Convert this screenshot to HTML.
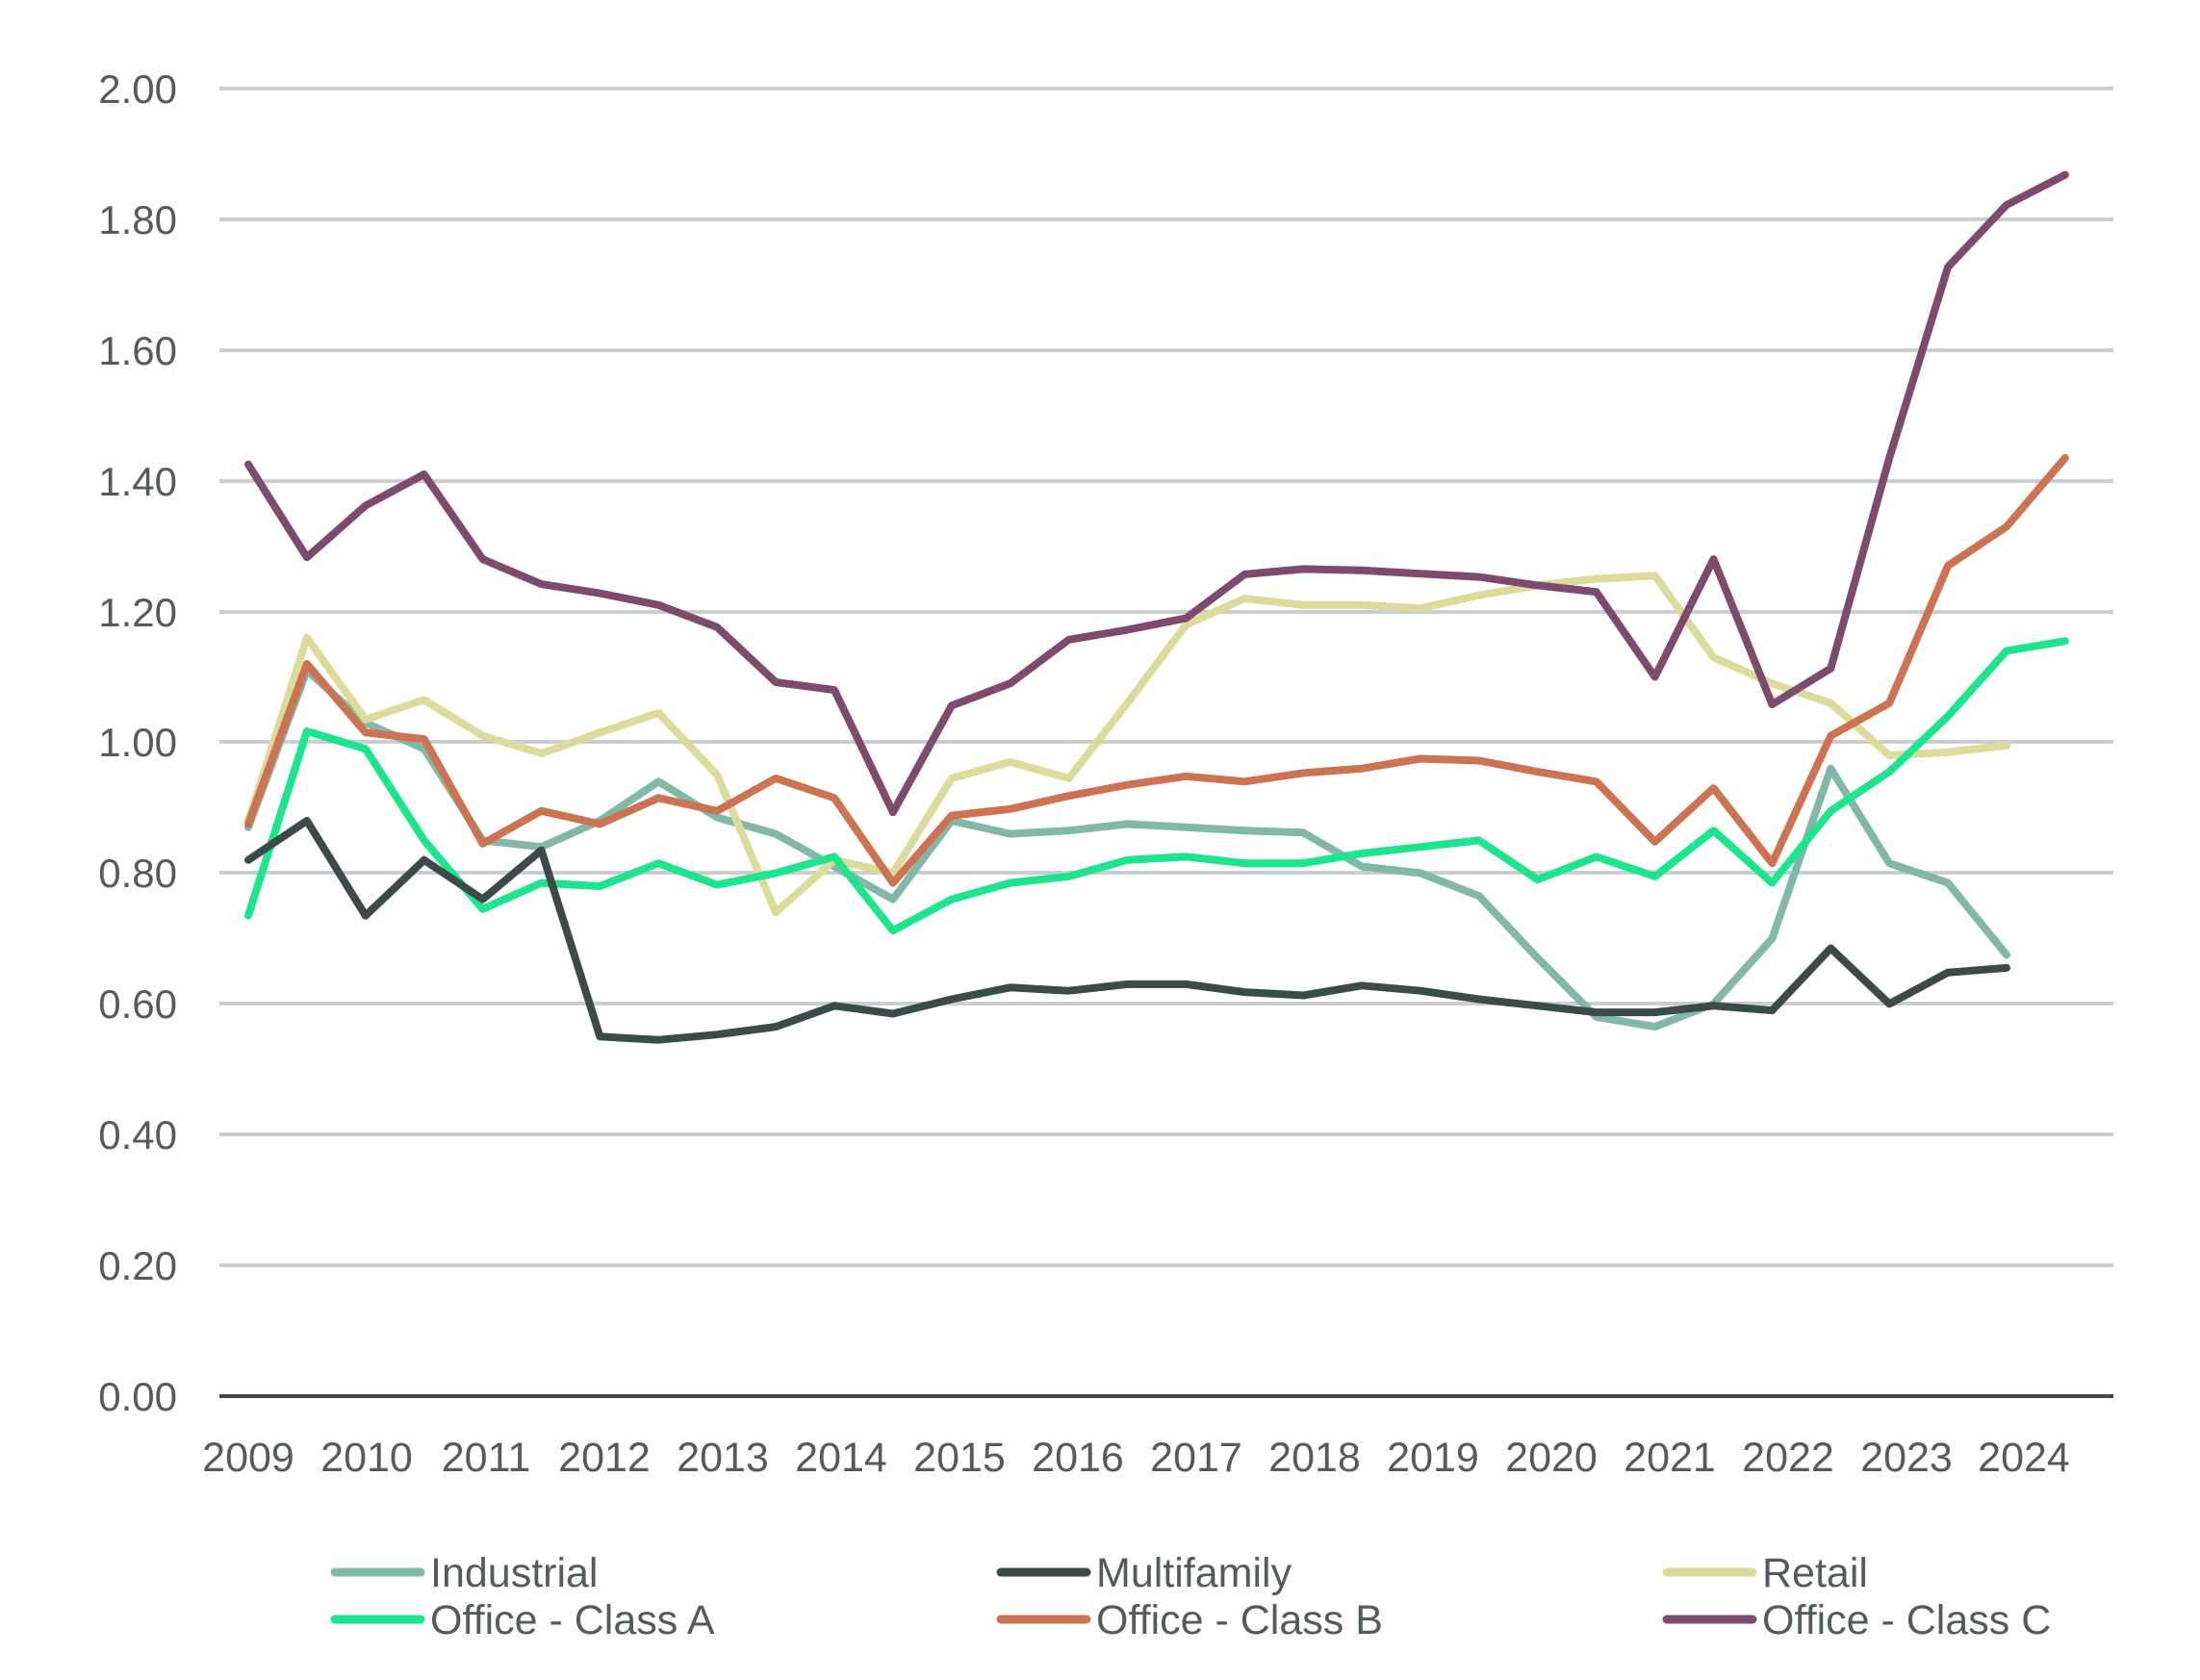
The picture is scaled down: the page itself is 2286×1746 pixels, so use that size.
<!DOCTYPE html>
<html><head><meta charset="utf-8"><style>
html,body{margin:0;padding:0;background:#fff;}
svg{display:block;}
text{font-family:"Liberation Sans",sans-serif;fill:#555a5c;}
</style></head><body>
<svg id="s" width="2286" height="1746" viewBox="0 0 2286 1746" xmlns="http://www.w3.org/2000/svg">
<g stroke="#c9cfd0" stroke-width="4">
<line x1="228" x2="2196" y1="92" y2="92"/>
<line x1="228" x2="2196" y1="228" y2="228"/>
<line x1="228" x2="2196" y1="364" y2="364"/>
<line x1="228" x2="2196" y1="500" y2="500"/>
<line x1="228" x2="2196" y1="636" y2="636"/>
<line x1="228" x2="2196" y1="771" y2="771"/>
<line x1="228" x2="2196" y1="907" y2="907"/>
<line x1="228" x2="2196" y1="1043" y2="1043"/>
<line x1="228" x2="2196" y1="1179" y2="1179"/>
<line x1="228" x2="2196" y1="1315" y2="1315"/>
</g>
<line x1="228" x2="2196" y1="1451" y2="1451" stroke="#3f4a4a" stroke-width="4"/>
<g font-size="42" text-anchor="end" textLength="86">
<text x="184" y="107">2.00</text>
<text x="184" y="243">1.80</text>
<text x="184" y="379">1.60</text>
<text x="184" y="515">1.40</text>
<text x="184" y="651">1.20</text>
<text x="184" y="786">1.00</text>
<text x="184" y="922">0.80</text>
<text x="184" y="1058">0.60</text>
<text x="184" y="1194">0.40</text>
<text x="184" y="1330">0.20</text>
<text x="184" y="1466">0.00</text>
</g>
<g font-size="43" text-anchor="middle" id="yrs"></g>
<g id="lines" fill="none" stroke-width="8" stroke-linejoin="round" stroke-linecap="round"></g>
<g font-size="43">
<line x1="348" x2="437" y1="1634" y2="1634" stroke="#82b8a8" stroke-width="9" stroke-linecap="round"/>
<text x="447" y="1649">Industrial</text>
<line x1="348" x2="437" y1="1683" y2="1683" stroke="#1de58e" stroke-width="9" stroke-linecap="round"/>
<text x="447" y="1698">Office - Class A</text>
<line x1="1040" x2="1129" y1="1634" y2="1634" stroke="#3d4a4a" stroke-width="9" stroke-linecap="round"/>
<text x="1139" y="1649">Multifamily</text>
<line x1="1040" x2="1129" y1="1683" y2="1683" stroke="#cc7351" stroke-width="9" stroke-linecap="round"/>
<text x="1139" y="1698">Office - Class B</text>
<line x1="1732" x2="1821" y1="1634" y2="1634" stroke="#dcdb9c" stroke-width="9" stroke-linecap="round"/>
<text x="1831" y="1649">Retail</text>
<line x1="1732" x2="1821" y1="1683" y2="1683" stroke="#7e4a6e" stroke-width="9" stroke-linecap="round"/>
<text x="1831" y="1698">Office - Class C</text>
</g>
</svg>
<script>
var X=function(i){return 258+60.9*i;},Y=function(v){return 1451-v*679.5;};
var yrs=document.getElementById('yrs');
var yl=[258,381,505,628,751,874,997,1120,1243,1366,1489,1612,1735,1858,1981,2103];
for(var k=0;k<16;k++){var t=document.createElementNS('http://www.w3.org/2000/svg','text');t.setAttribute('x',yl[k]);t.setAttribute('y',1529);t.textContent=2009+k;yrs.appendChild(t);}
var S=[
['#82b8a8',[0.87,1.11,1.03,0.99,0.85,0.84,0.88,0.94,0.885,0.86,0.81,0.76,0.88,0.86,0.865,0.875,0.87,0.865,0.862,0.81,0.80,0.765,0.67,0.58,0.565,0.60,0.70,0.96,0.815,0.785,0.675]],
['#dcdb9c',[0.88,1.16,1.035,1.065,1.01,0.983,1.015,1.045,0.95,0.74,0.82,0.80,0.945,0.97,0.945,1.06,1.18,1.22,1.21,1.21,1.205,1.225,1.24,1.25,1.255,1.13,1.09,1.06,0.98,0.985,0.995]],
['#1de58e',[0.735,1.017,0.99,0.85,0.745,0.785,0.78,0.815,0.782,0.80,0.825,0.712,0.76,0.785,0.795,0.82,0.825,0.815,0.815,0.83,0.84,0.85,0.79,0.825,0.795,0.865,0.785,0.895,0.955,1.04,1.14,1.155]],
['#3d4a4a',[0.82,0.88,0.735,0.82,0.76,0.835,0.55,0.545,0.553,0.565,0.597,0.585,0.607,0.625,0.62,0.63,0.63,0.618,0.613,0.628,0.62,0.607,0.597,0.587,0.587,0.597,0.59,0.685,0.60,0.648,0.655]],
['#cc7351',[0.875,1.12,1.015,1.005,0.845,0.895,0.875,0.915,0.895,0.945,0.915,0.785,0.888,0.898,0.918,0.935,0.948,0.94,0.953,0.96,0.975,0.972,0.955,0.94,0.848,0.93,0.815,1.01,1.06,1.27,1.33,1.435]],
['#7e4a6e',[1.425,1.283,1.362,1.41,1.28,1.242,1.228,1.21,1.176,1.092,1.08,0.893,1.056,1.09,1.157,1.172,1.19,1.257,1.265,1.263,1.258,1.253,1.24,1.23,1.10,1.28,1.058,1.113,1.435,1.727,1.822,1.868]]
];
var g=document.getElementById('lines');
S.forEach(function(s){var p=document.createElementNS('http://www.w3.org/2000/svg','polyline');
p.setAttribute('points',s[1].map(function(v,i){return X(i).toFixed(1)+','+Y(v).toFixed(1);}).join(' '));
p.setAttribute('stroke',s[0]);g.appendChild(p);});
</script>
</body></html>
